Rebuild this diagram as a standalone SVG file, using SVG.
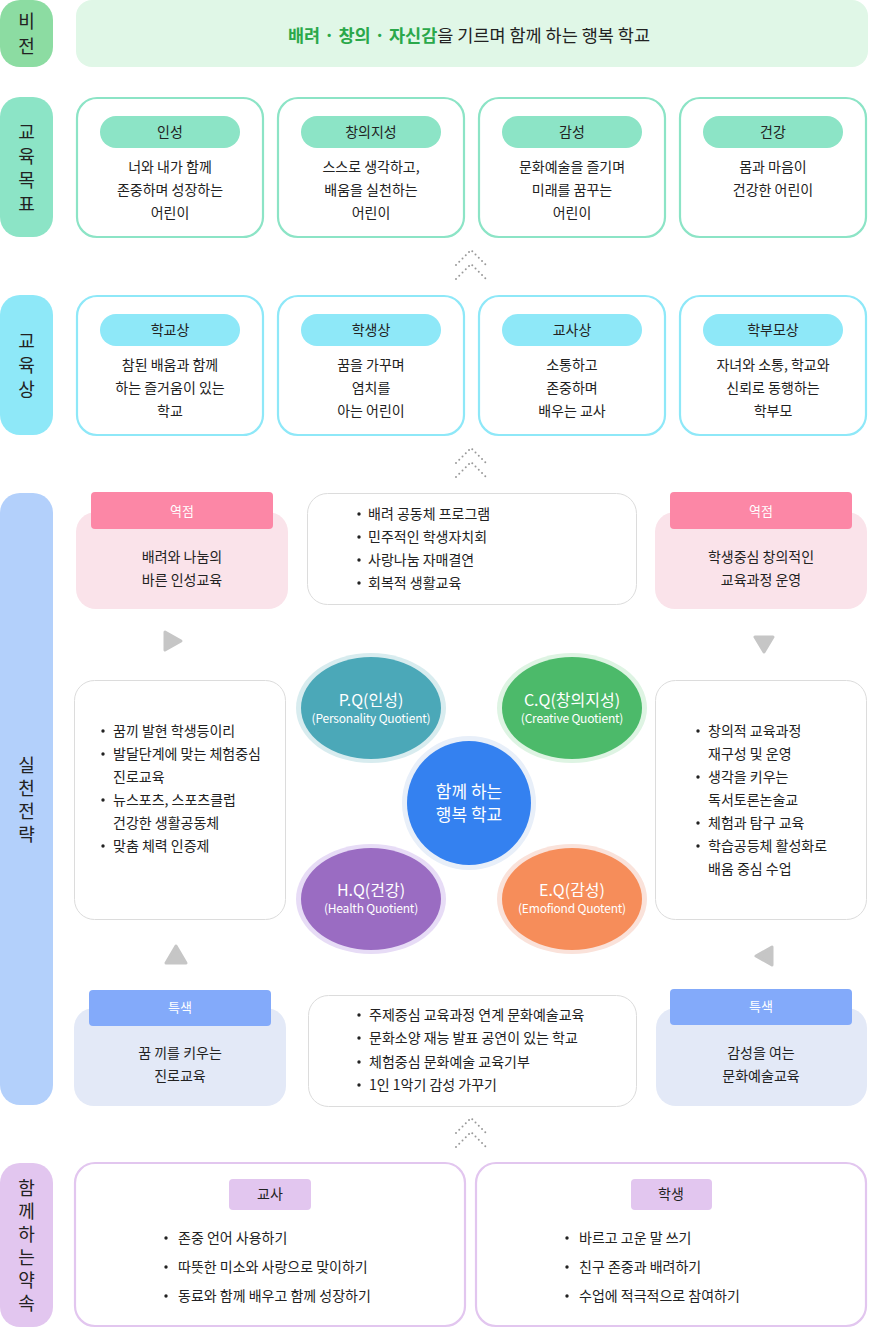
<svg xmlns="http://www.w3.org/2000/svg" width="870" height="1338" viewBox="0 0 870 1338">
<style>
text{font-family:"Noto Sans CJK KR","Noto Sans",sans-serif;fill:#222;text-anchor:middle}
.lab{font-size:18px;writing-mode:vertical-rl;text-orientation:upright}
.t{font-size:14px}
.l{text-anchor:start}
.w{fill:#fff}
.sub{font-size:12px;letter-spacing:-0.2px}
.gray{fill:#fff;stroke:#dcdcdc;stroke-width:1}
.goal{fill:#fff;stroke:#8ce4c6;stroke-width:2.2}
.img{fill:#fff;stroke:#8ee8f8;stroke-width:2.2}
.prom{fill:#fff;stroke:#e2c6ef;stroke-width:2.2}
.chev{fill:none;stroke:#9a9a9a;stroke-width:2;stroke-linecap:round;stroke-dasharray:0 4.6}
.tri{fill:#c6c6c6;stroke:#c6c6c6;stroke-width:3;stroke-linejoin:round}
.b{fill:#222}
</style>

<g id="vision">
<rect x="0" y="0" width="53" height="67" rx="20" fill="#8cdca2"/>
<text class="lab" x="26.5" y="37.5" style="letter-spacing:7px">비전</text>
<rect x="76" y="0" width="792" height="67" rx="16" fill="#e0f7e7"/>
<text x="469" y="42" style="font-size:17.5px"><tspan font-weight="bold" style="fill:#2aa84a">배려 · 창의 · 자신감</tspan>을 기르며 함께 하는 행복 학교</text>
</g>

<g id="goals">
<rect x="0" y="97" width="53" height="140" rx="20" fill="#8ce4c6"/>
<text class="lab" x="26.5" y="171" style="letter-spacing:6px">교육목표</text>
</g>
<g id="goal1">
<rect class="goal" x="77" y="98" width="186" height="139" rx="20"/>
<rect x="100" y="116" width="140" height="32" rx="16" fill="#8ce4c6"/>
<text class="t" x="170" y="137">인성</text>
<text class="t" x="170" y="172">너와 내가 함께</text>
<text class="t" x="170" y="195">존중하며 성장하는</text>
<text class="t" x="170" y="218">어린이</text>
</g>
<g id="goal2">
<rect class="goal" x="278" y="98" width="186" height="139" rx="20"/>
<rect x="301" y="116" width="140" height="32" rx="16" fill="#8ce4c6"/>
<text class="t" x="371" y="137">창의지성</text>
<text class="t" x="371" y="172">스스로 생각하고,</text>
<text class="t" x="371" y="195">배움을 실천하는</text>
<text class="t" x="371" y="218">어린이</text>
</g>
<g id="goal3">
<rect class="goal" x="479" y="98" width="186" height="139" rx="20"/>
<rect x="502" y="116" width="140" height="32" rx="16" fill="#8ce4c6"/>
<text class="t" x="572" y="137">감성</text>
<text class="t" x="572" y="172">문화예술을 즐기며</text>
<text class="t" x="572" y="195">미래를 꿈꾸는</text>
<text class="t" x="572" y="218">어린이</text>
</g>
<g id="goal4">
<rect class="goal" x="680" y="98" width="186" height="139" rx="20"/>
<rect x="703" y="116" width="140" height="32" rx="16" fill="#8ce4c6"/>
<text class="t" x="773" y="137">건강</text>
<text class="t" x="773" y="172">몸과 마음이</text>
<text class="t" x="773" y="195">건강한 어린이</text>
</g>

<g id="image">
<rect x="0" y="295" width="53" height="140" rx="20" fill="#8ee8f8"/>
<text class="lab" x="26.5" y="368" style="letter-spacing:6px">교육상</text>
</g>
<g id="img1">
<rect class="img" x="77" y="296" width="186" height="139" rx="20"/>
<rect x="100" y="314" width="140" height="32" rx="16" fill="#8ee8f8"/>
<text class="t" x="170" y="335">학교상</text>
<text class="t" x="170" y="370">참된 배움과 함께</text>
<text class="t" x="170" y="393">하는 즐거움이 있는</text>
<text class="t" x="170" y="416">학교</text>
</g>
<g id="img2">
<rect class="img" x="278" y="296" width="186" height="139" rx="20"/>
<rect x="301" y="314" width="140" height="32" rx="16" fill="#8ee8f8"/>
<text class="t" x="371" y="335">학생상</text>
<text class="t" x="371" y="370">꿈을 가꾸며</text>
<text class="t" x="371" y="393">염치를</text>
<text class="t" x="371" y="416">아는 어린이</text>
</g>
<g id="img3">
<rect class="img" x="479" y="296" width="186" height="139" rx="20"/>
<rect x="502" y="314" width="140" height="32" rx="16" fill="#8ee8f8"/>
<text class="t" x="572" y="335">교사상</text>
<text class="t" x="572" y="370">소통하고</text>
<text class="t" x="572" y="393">존중하며</text>
<text class="t" x="572" y="416">배우는 교사</text>
</g>
<g id="img4">
<rect class="img" x="680" y="296" width="186" height="139" rx="20"/>
<rect x="703" y="314" width="140" height="32" rx="16" fill="#8ee8f8"/>
<text class="t" x="773" y="335">학부모상</text>
<text class="t" x="773" y="370">자녀와 소통, 학교와</text>
<text class="t" x="773" y="393">신뢰로 동행하는</text>
<text class="t" x="773" y="416">학부모</text>
</g>

<g id="practice">
<rect x="0" y="493" width="53" height="612" rx="20" fill="#b3d0fb"/>
<text class="lab" x="26.5" y="802" style="letter-spacing:5px">실천전략</text>
</g>
<g id="focus-left">
<rect x="76" y="512" width="212" height="97" rx="20" fill="#fae3ea"/>
<rect x="91" y="492" width="182" height="37" rx="4" fill="#fc87a6"/>
<text class="t w" x="182" y="516" style="font-size:13px">역점</text>
<text class="t" x="182" y="562">배려와 나눔의</text>
<text class="t" x="182" y="585">바른 인성교육</text>
</g>
<g id="focus-center">
<rect class="gray" x="307.5" y="493.5" width="329" height="111" rx="20"/>
<circle class="b" cx="359" cy="514" r="1.7"/><text class="t l" x="368" y="519">배려 공동체 프로그램</text>
<circle class="b" cx="359" cy="537" r="1.7"/><text class="t l" x="368" y="542">민주적인 학생자치회</text>
<circle class="b" cx="359" cy="560" r="1.7"/><text class="t l" x="368" y="565">사랑나눔 자매결연</text>
<circle class="b" cx="359" cy="583" r="1.7"/><text class="t l" x="368" y="588">회복적 생활교육</text>
</g>
<g id="focus-right">
<rect x="655" y="512" width="212" height="97" rx="20" fill="#fae3ea"/>
<rect x="670" y="492" width="182" height="37" rx="4" fill="#fc87a6"/>
<text class="t w" x="761" y="516" style="font-size:13px">역점</text>
<text class="t" x="761" y="562">학생중심 창의적인</text>
<text class="t" x="761" y="585">교육과정 운영</text>
</g>
<g id="left-list">
<rect class="gray" x="74.5" y="680.5" width="211" height="239" rx="20"/>
<circle class="b" cx="103" cy="731" r="1.7"/><text class="t l" x="113" y="736">꿈끼 발현 학생등이리</text>
<circle class="b" cx="103" cy="754" r="1.7"/><text class="t l" x="113" y="759">발달단계에 맞는 체험중심</text>
<text class="t l" x="113" y="782">진로교육</text>
<circle class="b" cx="103" cy="800" r="1.7"/><text class="t l" x="113" y="805">뉴스포츠, 스포츠클럽</text>
<text class="t l" x="113" y="828">건강한 생활공동체</text>
<circle class="b" cx="103" cy="846" r="1.7"/><text class="t l" x="113" y="851">맞춤 체력 인증제</text>
</g>
<g id="right-list">
<rect class="gray" x="655.5" y="680.5" width="211" height="239" rx="20"/>
<circle class="b" cx="698" cy="731" r="1.7"/><text class="t l" x="708" y="736">창의적 교육과정</text>
<text class="t l" x="708" y="759">재구성 및 운영</text>
<circle class="b" cx="698" cy="777" r="1.7"/><text class="t l" x="708" y="782">생각을 키우는</text>
<text class="t l" x="708" y="805">독서토론논술교</text>
<circle class="b" cx="698" cy="823" r="1.7"/><text class="t l" x="708" y="828">체험과 탐구 교육</text>
<circle class="b" cx="698" cy="846" r="1.7"/><text class="t l" x="708" y="851">학습공등체 활성화로</text>
<text class="t l" x="708" y="874">배움 중심 수업</text>
</g>

<g id="pq">
<ellipse cx="371" cy="708" rx="75" ry="55" fill="#d8ecef"/>
<ellipse cx="371" cy="708" rx="70" ry="51" fill="#4ba8b8"/>
<text class="w" x="371" y="706" style="font-size:16px">P.Q(인성)</text>
<text class="w sub" x="371" y="723">(Personality Quotient)</text>
</g>
<g id="cq">
<ellipse cx="572" cy="708" rx="75" ry="55" fill="#def4e3"/>
<ellipse cx="572" cy="708" rx="70" ry="51" fill="#4cba6a"/>
<text class="w" x="572" y="706" style="font-size:16px">C.Q(창의지성)</text>
<text class="w sub" x="572" y="723">(Creative Quotient)</text>
</g>
<g id="hq">
<ellipse cx="371" cy="899" rx="75" ry="55" fill="#e7dcf6"/>
<ellipse cx="371" cy="899" rx="70" ry="51" fill="#9a6cc2"/>
<text class="w" x="371" y="896" style="font-size:16px">H.Q(건강)</text>
<text class="w sub" x="371" y="913">(Health Quotient)</text>
</g>
<g id="eq">
<ellipse cx="572" cy="899" rx="75" ry="55" fill="#fae2da"/>
<ellipse cx="572" cy="899" rx="70" ry="51" fill="#f68d5a"/>
<text class="w" x="572" y="896" style="font-size:16px">E.Q(감성)</text>
<text class="w sub" x="572" y="913">(Emofiond Quotent)</text>
</g>
<g id="center">
<circle cx="469" cy="803" r="67" fill="#e8eff9"/>
<circle cx="469" cy="803" r="62" fill="#3481f0"/>
<text class="w" x="469" y="798" style="font-size:17px">함께 하는</text>
<text class="w" x="469" y="821" style="font-size:17px">행복 학교</text>
</g>

<g id="feature-left">
<rect x="74" y="1008" width="212" height="98" rx="20" fill="#e3e9f7"/>
<rect x="89" y="990" width="182" height="36" rx="4" fill="#83aafa"/>
<text class="t w" x="180" y="1012" style="font-size:13px">특색</text>
<text class="t" x="180" y="1058">꿈 끼를 키우는</text>
<text class="t" x="180" y="1081">진로교육</text>
</g>
<g id="feature-center">
<rect class="gray" x="308.5" y="995.5" width="328" height="111" rx="20"/>
<circle class="b" cx="359" cy="1015" r="1.7"/><text class="t l" x="369" y="1020">주제중심 교육과정 연계 문화예술교육</text>
<circle class="b" cx="359" cy="1038" r="1.7"/><text class="t l" x="369" y="1043">문화소양 재능 발표 공연이 있는 학교</text>
<circle class="b" cx="359" cy="1062" r="1.7"/><text class="t l" x="369" y="1067">체험중심 문화예술 교육기부</text>
<circle class="b" cx="359" cy="1085" r="1.7"/><text class="t l" x="369" y="1090">1인 1악기 감성 가꾸기</text>
</g>
<g id="feature-right">
<rect x="656" y="1008" width="211" height="98" rx="20" fill="#e3e9f7"/>
<rect x="670" y="989" width="182" height="36" rx="4" fill="#83aafa"/>
<text class="t w" x="761" y="1011" style="font-size:13px">특색</text>
<text class="t" x="761" y="1058">감성을 여는</text>
<text class="t" x="761" y="1081">문화예술교육</text>
</g>

<g id="promise">
<rect x="0" y="1163" width="53" height="164" rx="20" fill="#e2c6ef"/>
<text class="lab" x="26.5" y="1248" style="letter-spacing:5px">함께하는약속</text>
</g>
<g id="teacher">
<rect class="prom" x="75" y="1163" width="390" height="163" rx="20"/>
<rect x="229" y="1179" width="82" height="31" rx="4" fill="#e2c6ef"/>
<text class="t" x="270" y="1199">교사</text>
<circle class="b" cx="166" cy="1238" r="1.7"/><text class="t l" x="178" y="1243">존중 언어 사용하기</text>
<circle class="b" cx="166" cy="1267" r="1.7"/><text class="t l" x="178" y="1272">따뜻한 미소와 사랑으로 맞이하기</text>
<circle class="b" cx="166" cy="1296" r="1.7"/><text class="t l" x="178" y="1301">동료와 함께 배우고 함께 성장하기</text>
</g>
<g id="student">
<rect class="prom" x="476" y="1163" width="390" height="163" rx="20"/>
<rect x="631" y="1179" width="81" height="31" rx="4" fill="#e2c6ef"/>
<text class="t" x="671" y="1199">학생</text>
<circle class="b" cx="567" cy="1238" r="1.7"/><text class="t l" x="579" y="1243">바르고 고운 말 쓰기</text>
<circle class="b" cx="567" cy="1267" r="1.7"/><text class="t l" x="579" y="1272">친구 존중과 배려하기</text>
<circle class="b" cx="567" cy="1296" r="1.7"/><text class="t l" x="579" y="1301">수업에 적극적으로 참여하기</text>
</g>

<g id="connectors">
<polyline class="chev" points="456,265 471,250 486,265"/>
<polyline class="chev" points="456,279 471,264 486,279"/>
<polyline class="chev" points="456,463 471,448 486,463"/>
<polyline class="chev" points="456,477 471,462 486,477"/>
<polyline class="chev" points="456,1133 471,1118 486,1133"/>
<polyline class="chev" points="456,1147 471,1132 486,1147"/>
<path class="tri" d="M165,632 L181,641 L165,650 Z"/>
<path class="tri" d="M755,637 L773,637 L764,652 Z"/>
<path class="tri" d="M176,946 L186,963 L166,963 Z"/>
<path class="tri" d="M772,947 L772,965 L756,956 Z"/>
</g>
</svg>
